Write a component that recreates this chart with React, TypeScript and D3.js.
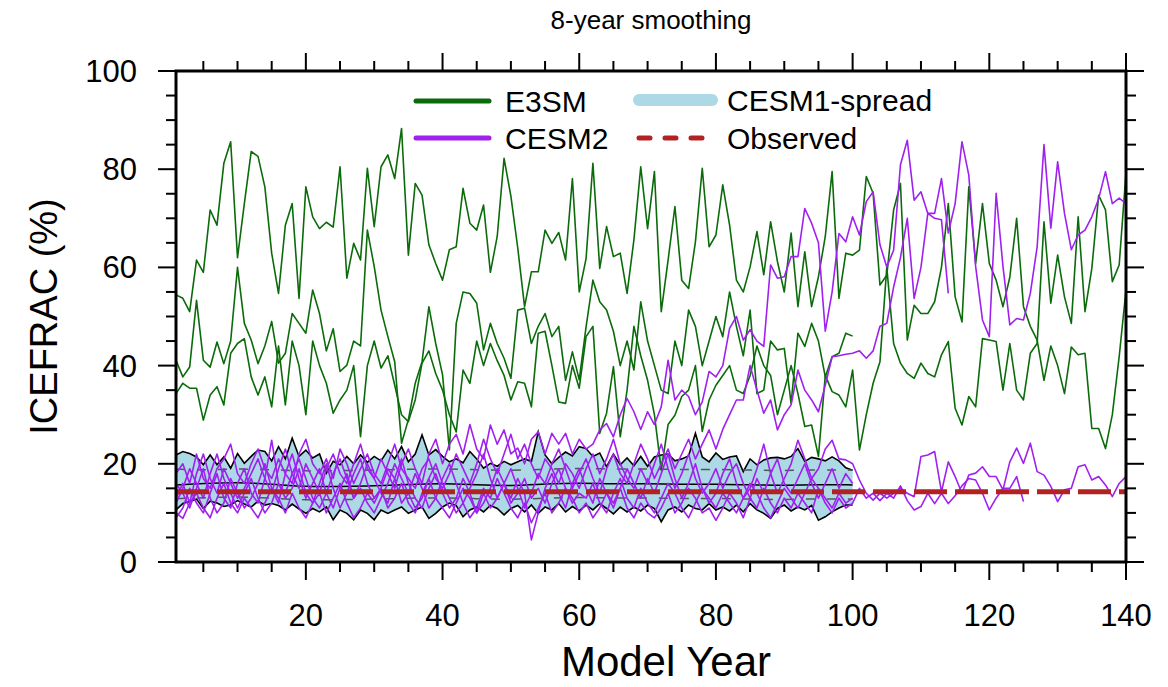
import React from 'react';
import * as d3 from 'd3';

// ---------------- DATA ----------------
const xTicksMajor = [20, 40, 60, 80, 100, 120, 140];
const yTicksMajor = [0, 20, 40, 60, 80, 100];

// E3SM ensemble (3 members)
const e3smA = [
  54.4, 53.7, 51.0, 61.5, 59.0, 71.7, 68.6, 81.2, 85.6, 62.0,
  73.0, 83.6, 82.6, 76.4, 62.9, 54.7, 68.6, 73.0, 53.7, 76.4,
  70.3, 67.9, 69.2, 68.2, 80.5, 57.8, 64.9, 61.5, 80.2, 68.3,
  80.5, 82.9, 78.1, 88.3, 62.5, 77.1, 74.7, 64.6, 60.8, 57.4,
  63.6, 64.2, 76.1, 69.0, 67.6, 72.7, 59.0, 66.3, 82.2, 74.5,
  64.0, 52.0, 59.1, 59.1, 67.6, 64.9, 67.1, 61.5, 78.1, 55.0,
  61.8, 81.2, 59.8, 68.3, 62.2, 62.9, 54.7, 65.6, 80.5, 67.9,
  79.5, 51.0, 61.5, 72.4, 57.4, 55.7, 65.2, 80.2, 64.2, 66.6,
  76.8, 68.6, 57.4, 55.0, 60.1, 67.3, 58.5, 69.3, 61.2, 55.0,
  67.0, 52.0, 63.2, 52.0, 58.1, 66.3, 79.5, 53.7, 62.9, 62.5,
  63.5, 78.5, 75.1, 56.4, 58.4, 71.7, 77.1, 45.2, 52.3, 50.6,
  50.6, 53.0, 60.0, 73.0, 54.0, 48.9, 76.4, 60.8, 73.0, 60.8,
  57.4, 52.0, 58.0, 70.0, 52.0, 48.0, 45.2, 37.0, 44.0, 40.0,
  34.3, 43.8, 42.2, 42.5, 27.2, 27.2, 23.1, 30.0, 41.8, 55.4,
];
const e3smB = [
  34.3, 36.4, 35.4, 35.4, 28.9, 34.0, 35.7, 32.0, 42.5, 44.5,
  45.5, 37.7, 34.0, 37.7, 31.6, 44.0, 32.0, 45.0, 40.0, 30.0,
  45.0, 40.0, 36.4, 30.3, 33.0, 35.0, 40.0, 25.5, 40.0, 45.0,
  39.5, 42.0, 36.0, 30.0, 28.6, 33.0, 40.5, 43.0, 38.4, 35.0,
  30.0, 26.5, 39.1, 36.4, 45.0, 40.0, 44.5, 41.0, 38.0, 33.0,
  36.7, 36.4, 31.6, 46.6, 47.0, 40.0, 32.6, 32.3, 40.0, 35.4,
  45.9, 48.0, 26.2, 30.3, 39.8, 25.5, 35.0, 48.0, 42.0, 37.0,
  30.0, 18.7, 28.0, 29.9, 33.7, 35.0, 40.0, 26.6, 33.0, 36.0,
  38.0, 40.0, 35.0, 34.3, 38.0, 44.0, 40.0, 38.0, 30.0, 35.0,
  40.0, 34.3, 27.6, 27.9, 21.5, 38.0, 34.7, 34.0, 31.6, 39.1,
  22.8, 30.0, 36.4, 40.8, 60.0, 44.5, 40.5, 38.4, 37.4, 40.5,
  38.4, 37.7, 42.2, 44.9, 31.3, 27.9, 33.7, 31.6, 45.5, 45.2,
  44.9, 35.0, 44.5, 35.0, 33.0, 42.5, 44.5, 69.3, 52.7, 62.5,
  54.0, 48.6, 70.3, 51.0, 59.8, 74.7, 71.7, 57.1, 60.5, 79.2,
];
const e3smC = [
  41.1, 37.7, 39.7, 53.3, 41.1, 39.7, 44.8, 40.4, 45.0, 60.0,
  48.6, 45.2, 40.4, 44.0, 49.0, 40.5, 42.5, 50.6, 48.6, 46.6,
  55.4, 50.6, 43.0, 47.5, 38.8, 40.1, 45.0, 44.0, 67.6, 60.2,
  51.3, 45.9, 40.8, 24.2, 29.0, 36.4, 40.8, 52.0, 44.5, 38.1,
  22.8, 48.6, 55.0, 54.7, 52.7, 43.2, 48.6, 44.5, 41.5, 37.4,
  51.3, 51.7, 44.5, 48.0, 50.6, 45.9, 48.0, 37.0, 42.8, 37.1,
  47.9, 57.4, 53.0, 51.3, 47.0, 40.0, 45.0, 39.1, 53.0, 45.0,
  40.0, 35.0, 34.3, 45.0, 40.0, 51.3, 48.0, 40.0, 45.0, 50.0,
  45.9, 55.0, 48.0, 42.0, 51.3, 34.3, 35.0, 45.0, 43.2, 43.5,
  32.3, 46.6, 43.9, 48.6, 45.0, 37.7, 41.8, 42.5, 46.6, 46.0,
];

// CESM2 ensemble
const cesm2A = [
  13, 16, 12, 18, 22, 17, 14, 19, 16, 13,
  15, 18, 21, 17, 14, 19, 23, 18, 15, 20,
  17, 14, 19, 22, 18, 16, 20, 24, 19, 17,
  21, 18, 15, 20, 23, 19, 16, 22, 25, 20,
  24, 26, 22, 28, 23, 21, 27.9, 24, 26.9, 22,
  23.2, 20, 25, 26.5, 22, 26.2, 24, 26.2, 22, 25,
  23, 24, 26.9, 28.2, 25.5, 30, 33.3, 30.6, 27, 30.6,
  28, 31.6, 41.1, 33, 35, 33.7, 30, 32.6, 38.8, 37.7,
  40, 47.6, 50, 45.2, 47.3, 45, 43.9, 60.5, 57.8, 58.1,
  62.2, 62.2, 72, 69, 65, 47, 55, 66.9, 65.2, 70.3,
  66.6, 73.4, 75.4, 64.6, 60.1, 63.5, 80.9, 85.9, 73.7, 75.4,
  71, 71, 78.1, 67, 73, 85.6, 78.8, 60.2, 49.3, 45.9,
  75.1, 60.2, 48.3, 49.6, 49.3, 54.7, 64.2, 85, 68, 81.5,
  71, 63.6, 66.6, 67.6, 70.3, 74, 79.5, 73, 74.1, 73,
];
const cesm2B = [
  9, 11, 15, 12, 10, 14, 18, 13, 11, 16,
  19, 14, 12, 17, 24.8, 16, 13, 15, 19, 14,
  12, 16, 20, 15, 11, 14, 18, 21, 16, 13,
  15, 19, 17, 12, 14, 18, 15, 11, 13, 17,
  20, 16, 12, 15, 18, 22, 17, 13, 16, 19,
  15, 11, 14, 18, 16, 20, 23, 19, 15, 18,
  21, 17, 14, 19, 22, 18, 16, 20, 24, 21,
  17, 20, 23, 19, 22, 25, 21, 24, 26.9, 23,
  27, 30, 33, 33, 40, 35, 30.3, 33, 26.9, 30,
  32, 39.1, 35, 33, 30.6, 36, 41.8, 42, 42.3, 42.5,
  43, 41.5, 43, 48, 48.6, 56, 62, 70, 53.7, 60,
  71, 70, 69.7, 54.7,
];
const cesm2C = [
  16, 14, 11, 15, 19, 13, 10, 12, 17, 14,
  11, 13, 16, 20, 15, 12, 18, 22, 17, 13,
  16, 19, 14, 11, 15, 18, 13, 16, 20, 17,
  14, 12, 17, 21, 16, 13, 11, 15, 18, 14,
  11, 13, 17, 14, 10, 12, 15, 19, 16, 13,
  17, 14, 4.5, 10, 15, 18, 14, 11, 16, 19,
  15, 12, 17, 14, 11, 15, 19, 16, 13, 17,
  14, 18, 22, 17, 13, 16, 20, 15, 12, 14,
  18, 21, 16, 13, 15, 19, 24, 18, 14, 17,
  20, 24.8, 21, 17, 19, 23, 24.8, 21, 20.8, 20,
  16.7, 14, 12.6, 14, 13, 14, 15, 14, 13.3, 21.5,
  21.8, 22.5, 14.3, 20.4, 17.4, 14, 17.7, 18.1, 19.4, 17.4,
  17.4, 14.7, 20.4, 23.2, 20.1, 24.2, 18.4, 17.7, 15.4, 12.3,
  14.7, 15, 19.4, 19.8, 16.7, 17.4, 15.7, 13.3, 16, 17.4,
];
const cesm2D = [
  10, 8.9, 12, 14, 11, 9, 13, 16, 12, 10,
  13, 11, 9, 12, 15, 13, 10, 14, 11, 9,
  12, 14, 10, 13, 16, 12, 9, 11, 14, 12,
  15, 11, 13, 16, 12, 10, 14, 17, 13, 11,
  9, 12, 15, 13, 10, 14, 11, 13, 16, 12,
  14, 17, 13, 15, 12, 16, 19, 15, 12, 14,
  13, 16, 12, 10, 14, 17, 13, 11, 15, 12,
  10, 13, 16, 14, 11, 9, 12, 15, 13, 11,
  14, 12, 10, 13, 16, 14, 11, 9, 12, 15,
  13, 11, 14, 17, 15, 12, 10, 13, 11, 12,
  15, 13, 14, 12.5, 14, 13, 15.5, 12.5, 10.6, 11.3,
  14, 11.9, 14, 11.9, 13.5, 15.5, 17, 16.7, 14, 10.6,
  13, 15, 15, 17.4, 12.3,
];
const cesm2E = [
  18, 20, 16, 22, 17, 15, 19, 21, 24, 18,
  16, 20, 23, 19, 17, 21, 18, 16, 22, 25,
  20, 18, 21, 17, 23, 20, 16, 19, 22, 18,
  16, 20, 24, 19, 17, 15, 19, 21, 17, 15,
  18, 22, 19, 16, 20, 25, 21, 18, 22, 26,
  21, 24, 20, 17, 21, 19, 16, 20, 18, 15,
  19, 22, 18, 21, 25, 20, 17, 15, 19, 16,
  20, 24, 19, 15, 18, 22, 17, 14, 16, 19,
  15, 18, 20, 16, 13, 17, 14, 18, 21, 16,
  14, 17, 20, 16, 13, 16, 19, 15, 18, 16,
];
const cesm2F = [
  12, 15, 19, 16, 13, 18, 22, 17, 14, 11,
  14, 17, 13, 10, 12, 16, 14, 18, 21, 17,
  13, 11, 14, 18, 21, 17, 13, 15, 12, 10,
  13, 16, 20, 17, 14, 11, 13, 17, 20, 16,
  13, 10, 12, 9, 11, 15, 13, 17, 14, 11,
  9, 12, 8, 11, 14, 10, 12, 15, 13, 10,
  12, 9, 11, 14, 12, 15, 11, 9, 12, 10,
  9, 11, 14, 10, 12, 15, 13, 10, 11, 8.5,
  11, 14, 12, 9, 13, 11, 15, 12, 10, 13,
  11, 14, 12, 10, 15, 13, 11, 14, 12, 13,
];

// CESM1 ensemble spread (years 1-100)
const cesm1Upper = [
  21.8, 22.5, 22.1, 21.4, 19.8, 21.8, 19.8, 21.4, 19.1, 22.1,
  20.1, 21.5, 22.8, 22.5, 20.6, 23.5, 21.0, 25.2, 21.5, 22.8,
  21.2, 22.0, 18.1, 20.5, 19.8, 21.5, 20.0, 21.8, 20.3, 21.5,
  20.6, 22.8, 21.0, 23.5, 20.4, 22.0, 25.9, 21.8, 22.9, 21.5,
  20.4, 21.0, 20.2, 22.5, 21.0, 19.1, 20.1, 19.5, 20.5, 19.8,
  20.4, 21.0, 20.5, 26.5, 21.8, 20.0, 21.3, 22.4, 21.6, 23.5,
  23.1, 21.5, 22.2, 19.4, 22.0, 19.8, 21.2, 19.6, 21.5, 19.5,
  21.4, 21.8, 22.0, 20.6, 21.0, 21.6, 26.2, 21.4, 20.4, 22.2,
  20.9, 21.4, 21.6, 18.4, 21.0, 19.8, 20.8, 21.2, 21.3, 21.0,
  21.5, 23.1, 20.5, 21.3, 21.0, 20.6, 21.4, 20.6, 19.2, 18.7,
];
const cesm1Lower = [
  10.6, 11.9, 12.3, 12.8, 10.9, 12.4, 12.0, 11.3, 11.6, 12.5,
  11.8, 11.2, 12.4, 11.6, 11.9, 11.5, 10.6, 11.8, 10.8, 9.9,
  10.9, 10.2, 11.2, 8.6, 10.6, 9.9, 8.6, 10.6, 9.9, 8.6,
  10.6, 9.9, 10.6, 11.2, 9.9, 10.6, 11.2, 8.9, 9.9, 11.2,
  12.0, 11.5, 9.2, 10.6, 11.2, 10.2, 11.5, 10.9, 9.6, 10.9,
  11.5, 10.2, 11.6, 9.9, 11.2, 10.6, 11.9, 10.2, 11.3, 10.4,
  11.6, 10.6, 11.9, 10.9, 9.8, 11.2, 10.2, 11.2, 10.4, 11.6,
  10.9, 8.2, 10.6, 11.2, 10.2, 11.6, 10.9, 10.6, 11.9, 10.6,
  11.2, 10.4, 11.6, 10.2, 11.9, 10.6, 9.9, 8.9, 10.9, 11.6,
  10.4, 11.2, 10.6, 11.5, 8.5, 9.2, 10.2, 11.0, 11.6, 11.6,
];
const cesm1StatYears = [1, 5, 10, 15, 20, 25, 30, 35, 40, 45, 50, 55, 60, 65, 70, 75, 80, 85, 90, 95, 100];
const cesm1Mean = [15.7, 16.0, 16.2, 15.9, 15.3, 15.4, 15.5, 15.8, 16.0, 15.7, 15.5, 15.9, 16.1, 15.9, 16.0, 15.8, 15.9, 15.7, 15.6, 15.8, 15.7];
const cesm1StdUp = [18.9, 18.7, 19.0, 18.8, 18.5, 18.6, 18.7, 18.9, 19.0, 18.8, 18.6, 18.9, 19.1, 18.9, 19.0, 18.8, 18.9, 18.7, 18.6, 18.8, 18.7];
const cesm1StdDn = [12.9, 13.1, 13.3, 13.0, 12.6, 12.7, 12.8, 13.0, 13.1, 12.9, 12.7, 13.0, 13.2, 13.0, 13.1, 12.9, 13.0, 12.8, 12.7, 12.9, 12.8];

const obsYears = [1, 140];
const obsValues = [14.3, 14.3];

// ---------------- LAYOUT ----------------
const W = 1168;
const H = 687;
const M = { left: 176, right: 1126, top: 71, bottom: 562 };
const FONT = "'Liberation Sans', Arial, Helvetica, sans-serif";
const GREEN = '#0b6b0b';
const PURPLE = '#a020f0';
const BAND = '#add8e6';
const RED = '#b22222';

type Pt = [number, number];
const toPts = (vals: number[], startYear = 1): Pt[] => vals.map((v, i) => [startYear + i, v]);

export default function App() {
  const x = d3.scaleLinear().domain([1, 140]).range([M.left, M.right]);
  const y = d3.scaleLinear().domain([0, 100]).range([M.bottom, M.top]);
  const line = d3.line<Pt>().x(d => x(d[0])).y(d => y(d[1]));
  const smooth = d3.line<Pt>().x(d => x(d[0])).y(d => y(d[1])).curve(d3.curveBasis);
  const area = d3
    .area<[number, number, number]>()
    .x(d => x(d[0]))
    .y0(d => y(d[1]))
    .y1(d => y(d[2]));

  const bandData: [number, number, number][] = cesm1Upper.map((u, i) => [i + 1, cesm1Lower[i], u]);
  const statPts = (arr: number[]): Pt[] => arr.map((v, i) => [cesm1StatYears[i], v]);

  const xMinor = d3.range(5, 141, 5).filter(v => v % 20 !== 0);
  const yMinor = d3.range(0, 101, 5).filter(v => v % 20 !== 0);

  const greens = [e3smA, e3smB, e3smC];
  const purples = [cesm2A, cesm2B, cesm2C, cesm2D, cesm2E, cesm2F];

  const tickW = 2;
  const majL = 18;
  const minL = 10;

  return (
    <svg width={W} height={H} style={{ position: 'absolute', left: 0, top: 0, background: '#fff' }} fontFamily={FONT}>
      <rect x={0} y={0} width={W} height={H} fill="#fff" />
      {/* title */}
      <text x={(M.left + M.right) / 2} y={29} textAnchor="middle" fontSize={26} fill="#000">8-year smoothing</text>

      {/* CESM1 spread */}
      <path d={area(bandData) || ''} fill={BAND} stroke="none" />
      <path d={line(toPts(cesm1Upper)) || ''} fill="none" stroke="#000" strokeWidth={1.6} />
      <path d={line(toPts(cesm1Lower)) || ''} fill="none" stroke="#000" strokeWidth={1.6} />
      <path d={smooth(statPts(cesm1Mean)) || ''} fill="none" stroke="#000" strokeWidth={1.5} />
      <path d={smooth(statPts(cesm1StdUp)) || ''} fill="none" stroke="#555" strokeWidth={1.5} strokeDasharray="9 12" />
      <path d={smooth(statPts(cesm1StdDn)) || ''} fill="none" stroke="#555" strokeWidth={1.5} strokeDasharray="9 12" />

      {/* E3SM */}
      {greens.map((g, i) => (
        <path key={'g' + i} d={line(toPts(g)) || ''} fill="none" stroke={GREEN} strokeWidth={1.6} strokeLinejoin="round" />
      ))}
      {/* CESM2 */}
      {purples.map((p, i) => (
        <path key={'p' + i} d={line(toPts(p)) || ''} fill="none" stroke={PURPLE} strokeWidth={1.6} strokeLinejoin="round" />
      ))}
      {/* Observed */}
      <path d={line(obsYears.map((yr, i) => [yr, obsValues[i]] as Pt)) || ''} fill="none" stroke={RED} strokeWidth={5} strokeDasharray="33 8" />

      {/* frame */}
      <rect x={M.left} y={M.top} width={M.right - M.left} height={M.bottom - M.top} fill="none" stroke="#000" strokeWidth={3} />

      {/* x ticks */}
      {xTicksMajor.map(t => (
        <g key={'xt' + t}>
          <line x1={x(t)} x2={x(t)} y1={M.bottom} y2={M.bottom + majL} stroke="#000" strokeWidth={tickW} />
          <line x1={x(t)} x2={x(t)} y1={M.top} y2={M.top - majL} stroke="#000" strokeWidth={tickW} />
          <text x={x(t)} y={626} textAnchor="middle" fontSize={31} fill="#000">{t}</text>
        </g>
      ))}
      {xMinor.map(t => (
        <g key={'xm' + t}>
          <line x1={x(t)} x2={x(t)} y1={M.bottom} y2={M.bottom + minL} stroke="#000" strokeWidth={tickW} />
          <line x1={x(t)} x2={x(t)} y1={M.top} y2={M.top - minL} stroke="#000" strokeWidth={tickW} />
        </g>
      ))}
      {/* y ticks */}
      {yTicksMajor.map(t => (
        <g key={'yt' + t}>
          <line x1={M.left} x2={M.left - majL} y1={y(t)} y2={y(t)} stroke="#000" strokeWidth={tickW} />
          <line x1={M.right} x2={M.right + majL} y1={y(t)} y2={y(t)} stroke="#000" strokeWidth={tickW} />
          <text x={137} y={y(t) + 11} textAnchor="end" fontSize={31} fill="#000">{t}</text>
        </g>
      ))}
      {yMinor.map(t => (
        <g key={'ym' + t}>
          <line x1={M.left} x2={M.left - minL} y1={y(t)} y2={y(t)} stroke="#000" strokeWidth={tickW} />
          <line x1={M.right} x2={M.right + minL} y1={y(t)} y2={y(t)} stroke="#000" strokeWidth={tickW} />
        </g>
      ))}

      {/* axis titles */}
      <text x={666} y={676} textAnchor="middle" fontSize={42} fill="#000">Model Year</text>
      <text transform={`translate(57, ${(M.top + M.bottom) / 2}) rotate(-90)`} textAnchor="middle" fontSize={38} fill="#000">ICEFRAC (%)</text>

      {/* legend */}
      <line x1={416} x2={489} y1={101} y2={101} stroke={GREEN} strokeWidth={5} strokeLinecap="round" />
      <text x={505} y={112} fontSize={30} fill="#000">E3SM</text>
      <line x1={416} x2={489} y1={138} y2={138} stroke={PURPLE} strokeWidth={5} strokeLinecap="round" />
      <text x={505} y={149} fontSize={30} fill="#000">CESM2</text>
      <line x1={639} x2={712} y1={100} y2={100} stroke={BAND} strokeWidth={12} strokeLinecap="round" />
      <text x={727} y={111} fontSize={30} fill="#000">CESM1-spread</text>
      <line x1={639} x2={703} y1={138} y2={138} stroke={RED} strokeWidth={5} strokeLinecap="round" strokeDasharray="11 15" />
      <text x={727} y={149} fontSize={30} fill="#000">Observed</text>
    </svg>
  );
}
